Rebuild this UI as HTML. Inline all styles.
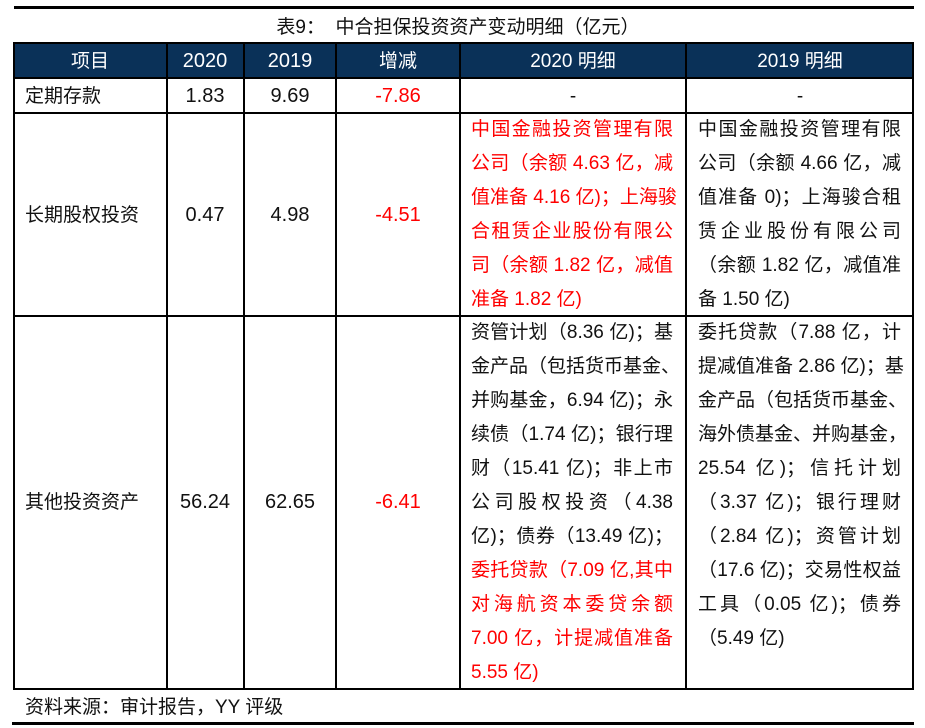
<!DOCTYPE html>
<html><head><meta charset="utf-8"><style>
body{margin:0;width:925px;height:728px;background:#fff;position:relative;overflow:hidden;font-family:"Liberation Sans","Noto Sans CJK SC",sans-serif;font-size:19px;color:#111}
.a{position:absolute;white-space:nowrap;line-height:35px;height:35px}
.h{position:absolute;background:#000}
.c{text-align:center;transform:translateX(-50%)}
.n{font-size:20px}
.l{position:absolute;height:34px;line-height:34px;white-space:nowrap;overflow:visible}
.j{text-align:justify;text-align-last:justify}
.r{color:#f00}
</style></head><body>
<div class="h" style="left:14px;top:6px;width:900px;height:3px"></div>
<div class="a c" style="left:458px;top:10px;font-size:19px">表9：&nbsp;&nbsp;中合担保投资资产变动明细（亿元）</div>
<div style="position:absolute;left:14px;top:43px;width:899px;height:35px;background:#0a3158"></div>
<div class="h" style="left:13px;top:42px;width:901px;height:2px"></div>
<div class="h" style="left:13px;top:77px;width:901px;height:2px"></div>
<div class="h" style="left:13px;top:112px;width:901px;height:2px"></div>
<div class="h" style="left:13px;top:315px;width:901px;height:2px"></div>
<div class="h" style="left:13px;top:688px;width:901px;height:2px"></div>
<div class="h" style="left:13px;top:42px;width:2px;height:648px"></div>
<div class="h" style="left:166px;top:42px;width:2px;height:648px"></div>
<div class="h" style="left:243px;top:42px;width:2px;height:648px"></div>
<div class="h" style="left:335px;top:42px;width:2px;height:648px"></div>
<div class="h" style="left:459px;top:42px;width:2px;height:648px"></div>
<div class="h" style="left:685px;top:42px;width:2px;height:648px"></div>
<div class="h" style="left:912px;top:42px;width:2px;height:648px"></div>
<div class="a c" style="left:90px;top:44px;color:#fff">项目</div>
<div class="a c n" style="left:205px;top:44px;color:#fff">2020</div>
<div class="a c n" style="left:290px;top:44px;color:#fff">2019</div>
<div class="a c" style="left:398px;top:44px;color:#fff">增减</div>
<div class="a c" style="left:573px;top:44px;color:#fff">2020 明细</div>
<div class="a c" style="left:800px;top:44px;color:#fff">2019 明细</div>
<div class="a" style="left:25px;top:79px">定期存款</div>
<div class="a c n" style="left:205px;top:79px">1.83</div>
<div class="a c n" style="left:290px;top:79px">9.69</div>
<div class="a c r n" style="left:398px;top:79px">-7.86</div>
<div class="a c" style="left:573px;top:79px">-</div>
<div class="a c" style="left:800px;top:79px">-</div>
<div class="a" style="left:25px;top:198px">长期股权投资</div>
<div class="a c n" style="left:205px;top:198px">0.47</div>
<div class="a c n" style="left:290px;top:198px">4.98</div>
<div class="a c r n" style="left:398px;top:198px">-4.51</div>
<div class="r">
<div class="l j" style="left:471px;width:202px;top:113px">中国金融投资管理有限</div>
<div class="l j" style="left:471px;width:202px;top:147px">公司（余额 4.63 亿，减</div>
<div class="l j" style="left:471px;width:202px;top:181px">值准备 4.16 亿)；上海骏</div>
<div class="l j" style="left:471px;width:202px;top:215px">合租赁企业股份有限公</div>
<div class="l j" style="left:471px;width:202px;top:249px">司（余额 1.82 亿，减值</div>
<div class="l" style="left:471px;top:283px">准备 1.82 亿)</div>
</div>
<div class="l j" style="left:698px;width:203px;top:113px">中国金融投资管理有限</div>
<div class="l j" style="left:698px;width:203px;top:147px">公司（余额 4.66 亿，减</div>
<div class="l j" style="left:698px;width:203px;top:181px">值准备 0)；上海骏合租</div>
<div class="l j" style="left:698px;width:203px;top:215px">赁企业股份有限公司</div>
<div class="l j" style="left:698px;width:203px;top:249px">（余额 1.82 亿，减值准</div>
<div class="l" style="left:698px;top:283px">备 1.50 亿)</div>
<div class="a" style="left:25px;top:485px">其他投资资产</div>
<div class="a c n" style="left:205px;top:485px">56.24</div>
<div class="a c n" style="left:290px;top:485px">62.65</div>
<div class="a c r n" style="left:398px;top:485px">-6.41</div>
<div class="l j" style="left:471px;width:202px;top:316px">资管计划（8.36 亿)；基</div>
<div class="l j" style="left:471px;width:202px;top:350px">金产品（包括货币基金、</div>
<div class="l j" style="left:471px;width:202px;top:384px">并购基金，6.94 亿)；永</div>
<div class="l j" style="left:471px;width:202px;top:418px">续债（1.74 亿)；银行理</div>
<div class="l j" style="left:471px;width:202px;top:452px">财（15.41 亿)；非上市</div>
<div class="l j" style="left:471px;width:202px;top:486px">公司股权投资（4.38</div>
<div class="l j" style="left:471px;width:202px;top:520px">亿)；债券（13.49 亿)；</div>
<div class="r">
<div class="l j" style="left:471px;width:202px;top:554px">委托贷款（7.09 亿,其中</div>
<div class="l j" style="left:471px;width:202px;top:588px">对海航资本委贷余额</div>
<div class="l j" style="left:471px;width:202px;top:622px">7.00 亿，计提减值准备</div>
<div class="l" style="left:471px;top:656px">5.55 亿)</div>
</div>
<div class="l j" style="left:698px;width:203px;top:316px">委托贷款（7.88 亿，计</div>
<div class="l j" style="left:698px;width:203px;top:350px">提减值准备 2.86 亿)；基</div>
<div class="l j" style="left:698px;width:203px;top:384px">金产品（包括货币基金、</div>
<div class="l j" style="left:698px;width:203px;top:418px">海外债基金、并购基金，</div>
<div class="l j" style="left:698px;width:203px;top:452px">25.54 亿)；信托计划</div>
<div class="l j" style="left:698px;width:203px;top:486px">（3.37 亿)；银行理财</div>
<div class="l j" style="left:698px;width:203px;top:520px">（2.84 亿)；资管计划</div>
<div class="l j" style="left:698px;width:203px;top:554px">（17.6 亿)；交易性权益</div>
<div class="l j" style="left:698px;width:203px;top:588px">工具（0.05 亿)；债券</div>
<div class="l" style="left:698px;top:622px">（5.49 亿)</div>
<div class="a" style="left:25px;top:690px">资料来源：审计报告，YY 评级</div>
<div class="h" style="left:12px;top:722px;width:902px;height:3px"></div>
</body></html>
